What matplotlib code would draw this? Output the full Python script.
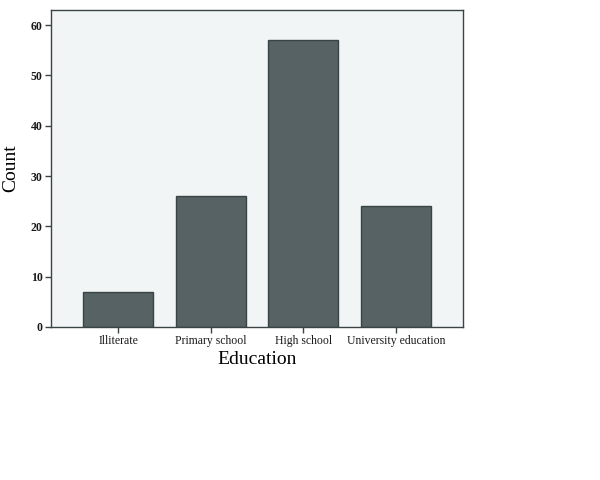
import matplotlib
matplotlib.use("Agg")
import matplotlib.pyplot as plt

categories = ['Illiterate', 'Primary school', 'High school', 'University education']
counts = [7, 26, 57, 24]

fig = plt.figure(figsize=(6, 4.8), dpi=100)
ax = fig.add_axes([0.085, 0.319, 0.687, 0.660])

ax.set_facecolor('#f2f5f5')
ax.bar(range(len(categories)), counts, width=0.757, color='#566263',
       edgecolor='#3a4444', linewidth=1.0, zorder=2)

ax.set_xlim(-0.725, 3.725)
ax.set_ylim(0, 63)
ax.set_yticks([0, 10, 20, 30, 40, 50, 60])
ax.set_xticks(range(len(categories)))
ax.set_xticklabels(categories)

for s in ax.spines.values():
    s.set_color('#3a4444')
    s.set_linewidth(1.0)

ax.tick_params(axis='both', direction='out', length=4, width=1, color='#3a4444',
               labelsize=8.5, labelcolor='#1a1a1a', pad=2)
for lab in ax.get_xticklabels():
    lab.set_family('Liberation Serif')
for lab in ax.get_yticklabels():
    lab.set_family('Liberation Serif')
    lab.set_fontweight('bold')

ax.set_xlabel('Education', family='Liberation Serif', fontsize=14, labelpad=3)
ax.set_ylabel('Count', family='Liberation Serif', fontsize=14, labelpad=8)

fig.savefig('out.png', dpi=100)
